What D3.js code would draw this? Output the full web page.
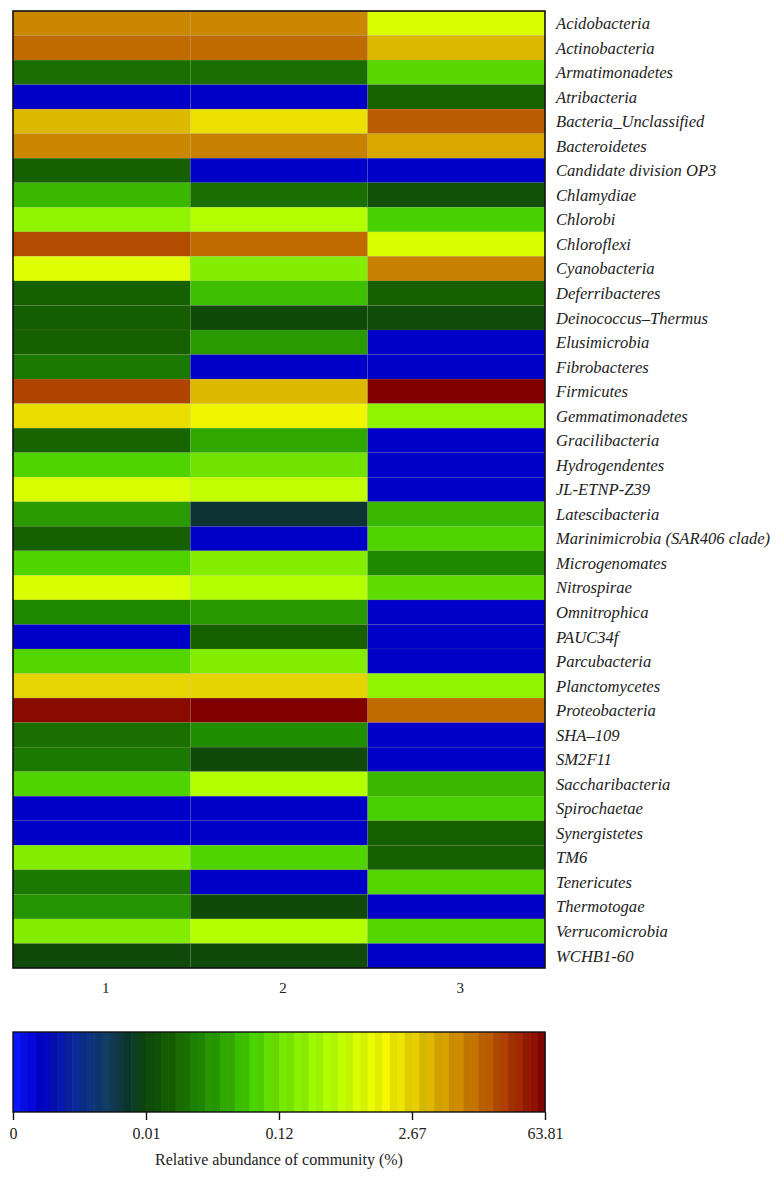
<!DOCTYPE html>
<html>
<head>
<meta charset="utf-8">
<script src="https://cdn.jsdelivr.net/npm/d3@7"></script>
<style>
  body { margin: 0; background: #fff; }
  svg text { font-family: "Liberation Serif", "DejaVu Serif", serif; fill: #222; }
</style>
</head>
<body>
<div id="main"></div>
<script>
///////////
// DATA  //
///////////

const phyla = [
  "Acidobacteria", "Actinobacteria", "Armatimonadetes", "Atribacteria",
  "Bacteria_Unclassified", "Bacteroidetes", "Candidate division OP3", "Chlamydiae",
  "Chlorobi", "Chloroflexi", "Cyanobacteria", "Deferribacteres",
  "Deinococcus\u2013Thermus", "Elusimicrobia", "Fibrobacteres", "Firmicutes",
  "Gemmatimonadetes", "Gracilibacteria", "Hydrogendentes", "JL-ETNP-Z39",
  "Latescibacteria", "Marinimicrobia (SAR406 clade)", "Microgenomates", "Nitrospirae",
  "Omnitrophica", "PAUC34f", "Parcubacteria", "Planctomycetes",
  "Proteobacteria", "SHA\u2013109", "SM2F11", "Saccharibacteria",
  "Spirochaetae", "Synergistetes", "TM6", "Tenericutes",
  "Thermotogae", "Verrucomicrobia", "WCHB1-60"
]

const samples = ["1", "2", "3"]

// relative abundance (%) per sample
const sample1 = [
  25, 33, 0.041, 0.002, 10, 25, 0.032, 0.085,
  0.63, 41.8, 1.75, 0.032, 0.030, 0.032, 0.045, 44,
  2.47, 0.034, 0.102, 1.65, 0.067, 0.032, 0.102, 1.65,
  0.054, 0.002, 0.104, 2.6, 60, 0.041, 0.045, 0.102,
  0.002, 0.002, 0.43, 0.045, 0.062, 0.43, 0.012
]
const sample2 = [
  25, 33, 0.041, 0.002, 2.45, 27, 0.002, 0.040,
  1.14, 33, 0.43, 0.089, 0.012, 0.067, 0.002, 10,
  2.06, 0.076, 0.12, 1.34, 0.0084, 0.002, 0.43, 1.14,
  0.066, 0.032, 0.43, 2.62, 63.81, 0.058, 0.012, 1.14,
  0.002, 0.002, 0.102, 0.002, 0.012, 1.14, 0.012
]
const sample3 = [
  1.65, 10, 0.107, 0.033, 37, 14.9, 0.002, 0.018,
  0.098, 1.65, 27, 0.032, 0.013, 0.002, 0.002, 63.81,
  0.63, 0.002, 0.002, 0.002, 0.085, 0.102, 0.054, 0.111,
  0.002, 0.002, 0.002, 0.63, 33, 0.002, 0.002, 0.085,
  0.098, 0.032, 0.032, 0.104, 0.002, 0.104, 0.002
]

// colour bar tick values
const tickValues = [0, 0.01, 0.12, 2.67, 63.81]
const tickLabels = ["0", "0.01", "0.12", "2.67", "63.81"]

// colour ramp stops along the bar (0..1)
const rampPos = [0, 0.05, 0.12, 0.18, 0.21, 0.25, 0.30, 0.35, 0.40, 0.45, 0.50,
                 0.55, 0.60, 0.65, 0.70, 0.75, 0.80, 0.85, 0.90, 0.95, 1]
const rampColors = ["#0a18ff", "#0000c8", "#0a2a96", "#123e5c", "#0c3434", "#0e480c",
                    "#166000", "#1e8800", "#30a800", "#48d000", "#70e400",
                    "#90f400", "#b4ff00", "#d8ff00", "#f4f400", "#e4d000",
                    "#d8a800", "#c88000", "#b85400", "#a02800", "#800000"]

///////////
// SETUP //
///////////

const width = 784
const height = 1178
const plotLeft = 13, plotRight = 545
const plotTop = 11, plotBottom = 968

const matrix = [sample1, sample2, sample3]

let x = d3.scaleBand()
  .domain(samples)
  .range([plotLeft, plotRight])

let y = d3.scaleBand()
  .domain(phyla)
  .range([plotTop, plotBottom])

// value -> position along the colour bar (piecewise)
let pos = d3.scaleLinear()
  .domain(tickValues)
  .range([0, 0.25, 0.5, 0.75, 1])
  .clamp(true)

let ramp = d3.scaleLinear()
  .domain(rampPos)
  .range(rampColors)
  .interpolate(d3.interpolateRgb)

const color = v => ramp(pos(v))

//////////
// DRAW //
//////////

let svg = d3.select("#main").append("svg")
  .attr("width", width)
  .attr("height", height)

let cells = []
samples.forEach((s, i) => {
  phyla.forEach((p, j) => cells.push({sample: s, phylum: p, value: matrix[i][j]}))
})

svg.append("g")
  .selectAll("rect")
  .data(cells)
  .enter().append("rect")
    .attr("x", d => x(d.sample))
    .attr("y", d => y(d.phylum))
    .attr("width", x.bandwidth())
    .attr("height", y.bandwidth())
    .attr("fill", d => color(d.value))
    .attr("stroke", "rgba(150,150,110,0.22)")
    .attr("stroke-width", 0.6)

svg.append("rect")
  .attr("x", plotLeft).attr("y", plotTop)
  .attr("width", plotRight - plotLeft).attr("height", plotBottom - plotTop)
  .attr("fill", "none")
  .attr("stroke", "#111")
  .attr("stroke-width", 1.6)

// row labels
svg.append("g")
  .selectAll("text")
  .data(phyla)
  .enter().append("text")
    .attr("x", plotRight + 11)
    .attr("y", d => y(d) + y.bandwidth() / 2)
    .attr("dy", "0.35em")
    .style("font-style", "italic")
    .style("font-size", "16.6px")
    .text(d => d)

// column labels
svg.append("g")
  .selectAll("text")
  .data(samples)
  .enter().append("text")
    .attr("x", d => x(d) + x.bandwidth() / 2 + 4)
    .attr("y", 993)
    .attr("text-anchor", "middle")
    .style("font-size", "15px")
    .text(d => d)

// colour bar (banded, like the original's stepped colormap)
const barTop = 1032, barH = 80
let barX = d3.scaleLinear().domain([0, 1]).range([plotLeft, plotRight])
const nSteps = 72
let steps = d3.range(nSteps).map(i => (i + 0.5) / nSteps)

let bar = svg.append("g")
bar.selectAll("rect")
  .data(steps)
  .enter().append("rect")
    .attr("x", d => barX(d - 0.5 / nSteps))
    .attr("y", barTop)
    .attr("width", (plotRight - plotLeft) / nSteps + 0.6)
    .attr("height", barH)
    .attr("fill", (d, i) => {
      let c = d3.rgb(ramp(d))
      return i % 2 ? c.darker(0.12) : c.brighter(0.05)
    })

bar.append("rect")
  .attr("x", plotLeft).attr("y", barTop)
  .attr("width", plotRight - plotLeft).attr("height", barH)
  .attr("fill", "none")
  .attr("stroke", "#111")
  .attr("stroke-width", 1.4)

let axisScale = d3.scaleLinear().domain(tickValues).range(tickValues.map((v, i) => barX(i / 4)))

let axis = svg.append("g")
  .attr("transform", `translate(0,${barTop + barH})`)
  .call(d3.axisBottom(axisScale)
    .tickValues(tickValues)
    .tickFormat((d, i) => tickLabels[i])
    .tickSize(8)
    .tickSizeOuter(0))

axis.select(".domain").remove()
axis.selectAll(".tick line").attr("stroke", "#111").attr("stroke-width", 1.4)
axis.selectAll(".tick text")
  .attr("y", 16)
  .style("font-family", "Liberation Serif, serif")
  .style("font-size", "16px")
  .attr("fill", "#222")

svg.append("text")
  .attr("x", (plotLeft + plotRight) / 2)
  .attr("y", barTop + barH + 53)
  .attr("text-anchor", "middle")
  .style("font-size", "16px")
  .text("Relative abundance of community (%)")
</script>
</body>
</html>
